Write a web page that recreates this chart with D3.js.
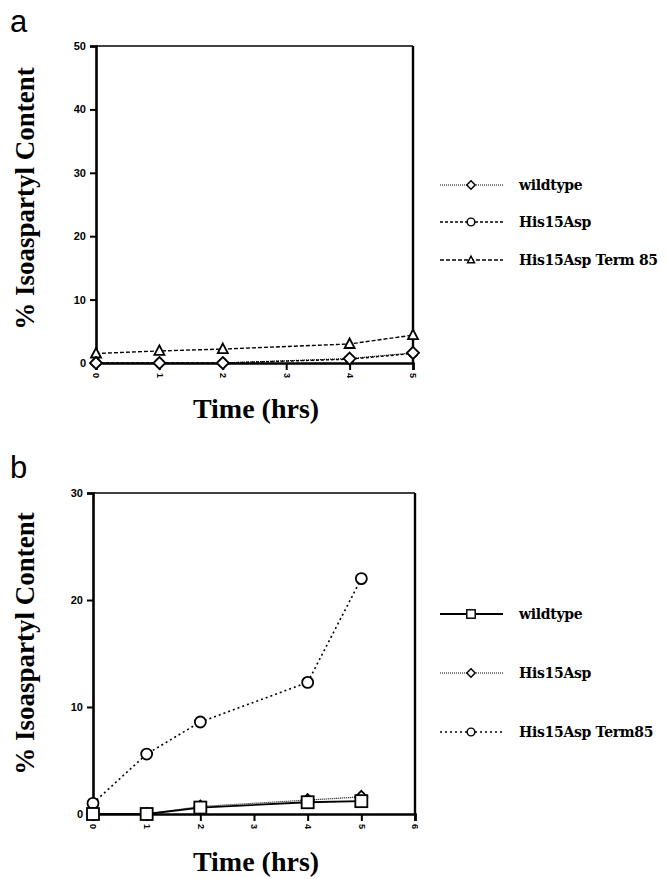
<!DOCTYPE html>
<html>
<head>
<meta charset="utf-8">
<script src="https://cdn.jsdelivr.net/npm/d3@7"></script>
<style>
  body { margin: 0; background: #fff; }
  svg text { fill: #000; }
</style>
</head>
<body>
<div id="chart"></div>
<script>
// panel a data
const hoursA = [0, 1, 2, 4, 5];
const wildtypeA = [0, 0, 0, 0.7, 1.6];
const his15AspA = [0, 0, 0, 0.6, 1.5];
const term85A = [1.5, 1.9, 2.2, 3.0, 4.4];
const yTicksA = [0, 10, 20, 30, 40, 50];
const xTicksA = [0, 1, 2, 3, 4, 5];

// panel b data
const hoursB = [0, 1, 2, 4, 5];
const wildtypeB = [0, 0, 0.6, 1.1, 1.2];
const his15AspB = [0, 0, 0.7, 1.3, 1.6];
const term85B = [1.0, 5.6, 8.6, 12.3, 22.0];
const yTicksB = [0, 10, 20, 30];
const xTicksB = [0, 1, 2, 3, 4, 5, 6];

const svg = d3.select("#chart").append("svg")
    .attr("width", 666)
    .attr("height", 879);

const serif = "'Liberation Serif', 'DejaVu Serif', serif";
const legendFont = "'DejaVu Serif', serif";
const sans = "'Liberation Sans', Arial, sans-serif";

// draws one open marker, k scales it
function marker(g, type, x, y, k) {
    let m;
    if (type === "diamond") {
        const s = 6 * k;
        m = g.append("path").attr("d", `M${x},${y - s}L${x + s},${y}L${x},${y + s}L${x - s},${y}Z`);
    } else if (type === "triangle") {
        const s = 5 * k;
        m = g.append("path").attr("d", `M${x},${y - s * 1.1}L${x + s},${y + s * 0.8}L${x - s},${y + s * 0.8}Z`);
    } else if (type === "circle") {
        m = g.append("circle").attr("cx", x).attr("cy", y).attr("r", 5.5 * k);
    } else if (type === "smallcircle") {
        m = g.append("circle").attr("cx", x).attr("cy", y).attr("r", 4 * k);
    } else {
        const s = 6 * k;
        m = g.append("rect").attr("x", x - s).attr("y", y - s).attr("width", 2 * s).attr("height", 2 * s);
    }
    m.attr("fill", "#fff").attr("stroke", "#000").attr("stroke-width", 1.8 * Math.max(k, 0.8));
}

function panel(opt) {
    const g = svg.append("g");
    const x = d3.scaleLinear().domain(opt.xDomain).range([opt.left, opt.right]);
    const y = d3.scaleLinear().domain(opt.yDomain).range([opt.bottom, opt.top]);

    // frame
    g.append("line").attr("x1", opt.left).attr("x2", opt.right).attr("y1", opt.top).attr("y2", opt.top)
        .attr("stroke", "#000").attr("stroke-width", 1.6);
    g.append("line").attr("x1", opt.right).attr("x2", opt.right).attr("y1", opt.top).attr("y2", opt.bottom)
        .attr("stroke", "#000").attr("stroke-width", 2.4);

    // y axis
    const yAxis = g.append("g")
        .attr("transform", `translate(${opt.left},0)`)
        .call(d3.axisLeft(y).tickValues(opt.yTicks).tickSize(6).tickPadding(4).tickFormat(d3.format("d")));
    yAxis.select(".domain").attr("stroke-width", 2.6);
    yAxis.selectAll(".tick line").attr("stroke-width", 2);
    yAxis.selectAll("text").attr("font-family", sans).attr("font-weight", "bold").attr("font-size", 11);

    // x axis, labels turned sideways
    const xAxis = g.append("g")
        .attr("transform", `translate(0,${opt.bottom})`)
        .call(d3.axisBottom(x).tickValues(opt.xTicks).tickSize(7).tickFormat(d3.format("d")));
    xAxis.select(".domain").attr("stroke-width", 2.6);
    xAxis.selectAll(".tick line").attr("stroke-width", 2);
    xAxis.selectAll("text")
        .attr("font-family", sans).attr("font-weight", "bold").attr("font-size", 9)
        .attr("text-anchor", "start")
        .attr("dy", "0.35em")
        .attr("transform", "translate(0,2) rotate(90)")
        .attr("x", 8).attr("y", 0);

    // series lines
    const line = d3.line().x(d => x(d[0])).y(d => y(d[1]));
    opt.series.forEach(s => {
        const pts = opt.hours.map((h, i) => [h, s.values[i]]);
        g.append("path").datum(pts).attr("d", line)
            .attr("fill", "none").attr("stroke", "#000")
            .attr("stroke-width", s.width).attr("stroke-dasharray", s.dash);
    });
    // markers, first series ends on top
    opt.series.slice().reverse().forEach(s => {
        opt.hours.forEach((h, i) => marker(g, s.marker, x(h), y(s.values[i]), 1));
    });

    // legend
    opt.series.forEach((s, i) => {
        const ly = opt.legendY[i];
        g.append("line").attr("x1", 440).attr("x2", 503).attr("y1", ly).attr("y2", ly)
            .attr("stroke", "#000").attr("stroke-width", s.width).attr("stroke-dasharray", s.dash);
        marker(g, s.legendMarker || s.marker, 471, ly, 0.7);
        g.append("text").attr("x", 519).attr("y", ly + 5)
            .attr("font-family", legendFont).attr("font-weight", "bold").attr("font-size", 14)
            .attr("letter-spacing", -0.3)
            .text(s.name);
    });

    // titles
    g.append("text")
        .attr("transform", `translate(${opt.yLabelX},${(opt.top + opt.bottom) / 2 + opt.yLabelShift}) rotate(-90)`)
        .attr("text-anchor", "middle")
        .attr("font-family", serif).attr("font-size", 27).attr("font-weight", "bold")
        .text("% Isoaspartyl Content");
    g.append("text")
        .attr("x", opt.xLabelX).attr("y", opt.xLabelY)
        .attr("text-anchor", "middle")
        .attr("font-family", serif).attr("font-size", 28).attr("font-weight", "bold")
        .text("Time (hrs)");
    g.append("text")
        .attr("x", 10).attr("y", opt.letterY)
        .attr("font-family", sans).attr("font-size", 31)
        .text(opt.letter);
}

panel({
    letter: "a", letterY: 32,
    left: 96, right: 413, top: 46, bottom: 363,
    xDomain: [0, 5], yDomain: [0, 50],
    xTicks: xTicksA, yTicks: yTicksA,
    hours: hoursA,
    yLabelX: 34, yLabelShift: -6,
    xLabelX: 256, xLabelY: 418,
    legendY: [185, 222, 260],
    series: [
        {name: "wildtype", values: wildtypeA, marker: "diamond", dash: "1,1", width: 1.2},
        {name: "His15Asp", values: his15AspA, marker: "smallcircle", legendMarker: "circle", dash: "3,2", width: 1.4},
        {name: "His15Asp Term 85", values: term85A, marker: "triangle", dash: "4,2", width: 1.4}
    ]
});

panel({
    letter: "b", letterY: 478,
    left: 93, right: 415, top: 493, bottom: 814,
    xDomain: [0, 6], yDomain: [0, 30],
    xTicks: xTicksB, yTicks: yTicksB,
    hours: hoursB,
    yLabelX: 34, yLabelShift: -10,
    xLabelX: 256, xLabelY: 871,
    legendY: [614, 673, 732],
    series: [
        {name: "wildtype", values: wildtypeB, marker: "square", dash: null, width: 1.8},
        {name: "His15Asp", values: his15AspB, marker: "diamond", dash: "1,1", width: 1.2},
        {name: "His15Asp Term85", values: term85B, marker: "circle", dash: "2,3", width: 1.6}
    ]
});
</script>
</body>
</html>
